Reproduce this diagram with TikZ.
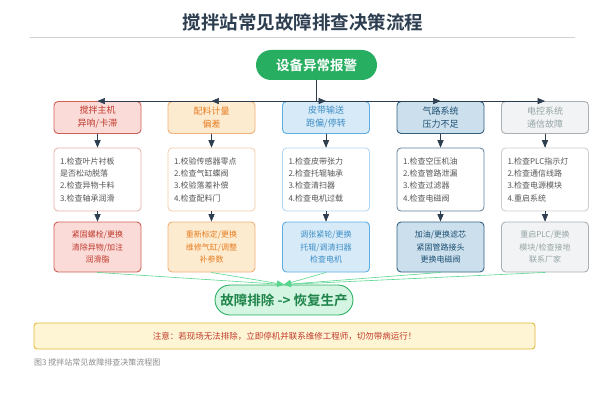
\documentclass[tikz,border=0pt]{standalone}
\usepackage{fontspec}
\setmainfont{Noto Sans CJK SC}[BoldFont={Noto Sans CJK SC Bold}]
\usepackage{tikz}
\usetikzlibrary{arrows}
\definecolor{navy}{HTML}{2C3E50}
\definecolor{rulegray}{HTML}{D0D3D4}
\definecolor{alarmgreen}{HTML}{27AE60}
\definecolor{donefill}{HTML}{D5F5E3}
\definecolor{donetext}{HTML}{1E8449}
\definecolor{flowgreen}{HTML}{58D68D}
\definecolor{redfill}{HTML}{FADBD8}
\definecolor{reddraw}{HTML}{CD6155}
\definecolor{redtext}{HTML}{C0392B}
\definecolor{redline}{HTML}{E6B0AA}
\definecolor{orgfill}{HTML}{FDEBD0}
\definecolor{orgdraw}{HTML}{F0B27A}
\definecolor{orgtext}{HTML}{E67E22}
\definecolor{orgline}{HTML}{F5CBA7}
\definecolor{bluefill}{HTML}{D6EAF8}
\definecolor{bluedraw}{HTML}{5DADE2}
\definecolor{bluetext}{HTML}{3C8DC5}
\definecolor{blueline}{HTML}{AED6F1}
\definecolor{steelfill}{HTML}{CCDFEC}
\definecolor{steeldraw}{HTML}{34607F}
\definecolor{steeltext}{HTML}{1B4F72}
\definecolor{steelline}{HTML}{5D7F99}
\definecolor{grayfill}{HTML}{F2F3F4}
\definecolor{graydraw}{HTML}{AAB0B3}
\definecolor{graytext}{HTML}{95A5A6}
\definecolor{grayline}{HTML}{C8CDD0}
\definecolor{notefill}{HTML}{FEF5D4}
\definecolor{notedraw}{HTML}{E2B93B}
\definecolor{captiongray}{HTML}{8C8C8C}
\definecolor{steptext}{HTML}{555555}

\begin{document}
\begin{tikzpicture}[line cap=round,line join=round,>=triangle 45,x=1pt,y=-1pt,
    cat/.style={draw,rounded corners=4pt,line width=0.9pt,minimum width=87pt,minimum height=32pt,
        inner sep=0pt,align=center,font=\fontsize{9}{13}\selectfont},
    stepbox/.style={draw,fill=white,rounded corners=4pt,line width=0.8pt,minimum width=87pt,minimum height=63pt,
        inner sep=0pt,text width=75pt,align=left,text=steptext,font=\fontsize{8}{12.3}\selectfont},
    res/.style={draw,rounded corners=4pt,line width=0.9pt,minimum width=87pt,minimum height=50pt,
        inner sep=0pt,align=center,font=\fontsize{8}{12.5}\selectfont},
    link/.style={->,line width=0.7pt,color=navy},
    flow/.style={->,line width=0.6pt,color=flowgreen}]
    \useasboundingbox (0,0) rectangle (605,404);
    % title
    \node[text=navy,font=\fontsize{18.5}{20}\selectfont\bfseries] (title) at (303,22) {搅拌站常见故障排查决策流程};
    \draw[line width=0.6pt,color=rulegray] (30,37) -- (575,37);
    \node[fill=alarmgreen,text=white,rounded corners=15pt,minimum width=121pt,minimum height=30pt,inner sep=0pt,
        font=\fontsize{13.5}{15}\selectfont\bfseries] (alarm) at (316.5,65) {设备异常报警};
    % fault categories
    \node[cat,fill=redfill,draw=reddraw,text=redtext] (cat1) at (97.5,117.5) {搅拌主机\\异响/卡滞};
    \node[cat,fill=orgfill,draw=orgdraw,text=orgtext] (cat2) at (211.5,117.5) {配料计量\\偏差};
    \node[cat,fill=bluefill,draw=bluedraw,text=bluetext] (cat3) at (326,117.5) {皮带输送\\跑偏/停转};
    \node[cat,fill=steelfill,draw=steeldraw,text=steeltext] (cat4) at (440.5,117.5) {气路系统\\压力不足};
    \node[cat,fill=grayfill,draw=graydraw,text=graytext] (cat5) at (545,117.5) {电控系统\\通信故障};
    \draw[link] (alarm.south) |- (cat1.north);
    \draw[link] (alarm.south) |- (cat2.north);
    \draw[link] (alarm.south) |- (cat3.north);
    \draw[link] (alarm.south) |- (cat4.north);
    \draw[link] (alarm.south) |- (cat5.north);
    % checks
    \node[stepbox,draw=redline] (step1) at (97.5,179.5) {1.检查叶片衬板\\是否松动脱落\\2.检查异物卡料\\3.检查轴承润滑};
    \node[stepbox,draw=orgline] (step2) at (211.5,179.5) {1.校验传感器零点\\2.检查气缸蝶阀\\3.校验落差补偿\\4.检查配料门};
    \node[stepbox,draw=blueline] (step3) at (326,179.5) {1.检查皮带张力\\2.检查托辊轴承\\3.检查清扫器\\4.检查电机过载};
    \node[stepbox,draw=steelline] (step4) at (440.5,179.5) {1.检查空压机油\\2.检查管路泄漏\\3.检查过滤器\\4.检查电磁阀};
    \node[stepbox,draw=grayline] (step5) at (545,179.5) {1.检查PLC指示灯\\2.检查通信线路\\3.检查电源模块\\4.重启系统};
    \draw[link] (cat1) -- (step1);
    \draw[link] (cat2) -- (step2);
    \draw[link] (cat3) -- (step3);
    \draw[link] (cat4) -- (step4);
    \draw[link] (cat5) -- (step5);
    % remedies
    \node[res,fill=redfill,draw=reddraw,text=redtext] (res1) at (97.5,247) {紧固螺栓/更换\\清除异物/加注\\润滑脂};
    \node[res,fill=orgfill,draw=orgdraw,text=orgtext] (res2) at (211.5,247) {重新标定/更换\\维修气缸/调整\\补参数};
    \node[res,fill=bluefill,draw=bluedraw,text=bluetext] (res3) at (326,247) {调张紧轮/更换\\托辊/调清扫器\\检查电机};
    \node[res,fill=steelfill,draw=steeldraw,text=steeltext] (res4) at (440.5,247) {加油/更换滤芯\\紧固管路接头\\更换电磁阀};
    \node[res,fill=grayfill,draw=graydraw,text=graytext] (res5) at (545,247) {重启PLC/更换\\模块/检查接地\\联系厂家};
    \draw[link] (step1) -- (res1);
    \draw[link] (step2) -- (res2);
    \draw[link] (step3) -- (res3);
    \draw[link] (step4) -- (res4);
    \draw[link] (step5) -- (res5);
    % result
    \node[draw=alarmgreen,fill=donefill,text=donetext,line width=0.9pt,rounded corners=15pt,minimum width=138pt,
        minimum height=30pt,inner sep=0pt,font=\fontsize{13.5}{15}\selectfont\bfseries] (done) at (284,300) {故障排除 -> 恢复生产};
    \draw[flow] (res1.south) -- (done.north);
    \draw[flow] (res2.south) -- (done.north);
    \draw[flow] (res3.south) -- (done.north);
    \draw[flow] (res4.south) -- (done.north);
    \draw[flow] (res5.south) -- (done.north);
    % warning
    \node[draw=notedraw,fill=notefill,text=redtext,line width=0.9pt,rounded corners=3pt,minimum width=501pt,
        minimum height=26pt,inner sep=0pt,font=\fontsize{8.5}{10}\selectfont] (note) at (284.5,336)
        {注意：若现场无法排除，立即停机并联系维修工程师，切勿带病运行！};
    \node[anchor=west,text=captiongray,inner sep=0pt,font=\fontsize{8}{10}\selectfont] (caption) at (34,362)
        {图3 搅拌站常见故障排查决策流程图};
\end{tikzpicture}
\end{document}
